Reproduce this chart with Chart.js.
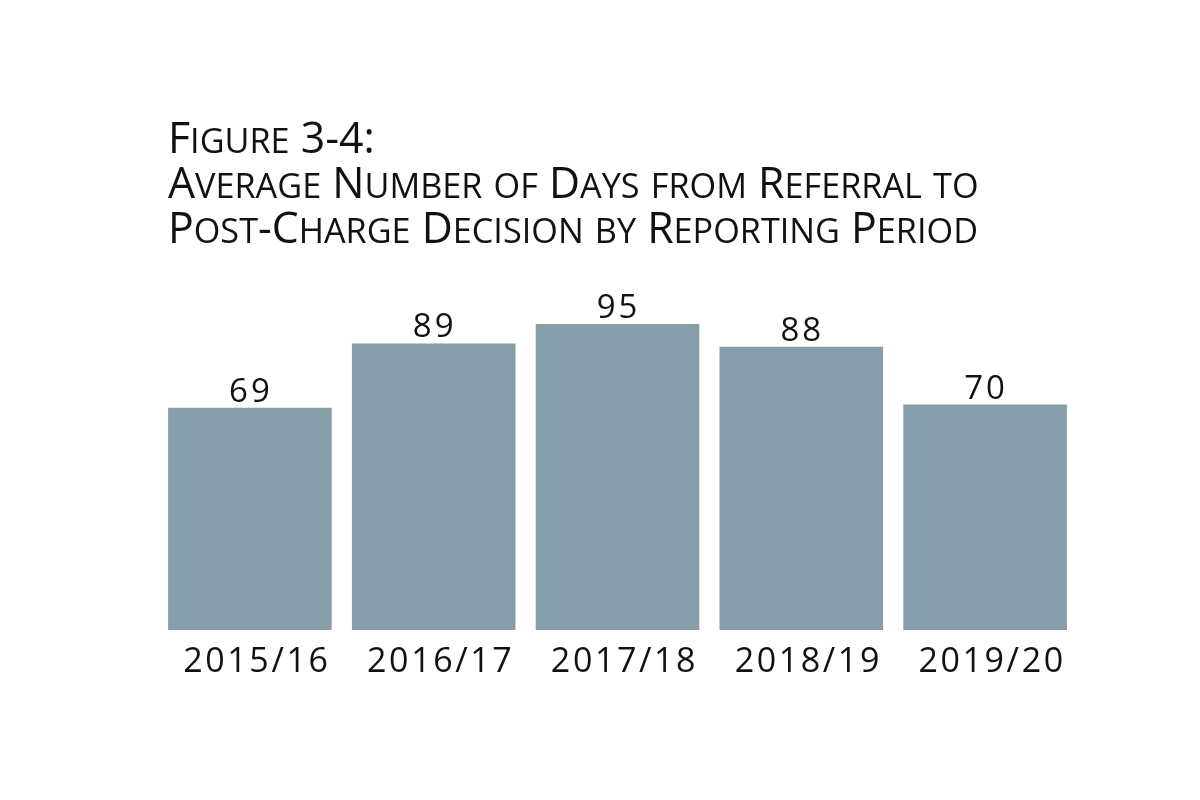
<!DOCTYPE html>
<html>
<head>
<meta charset="utf-8">
<script src="https://cdn.jsdelivr.net/npm/chart.js@4"></script>
<style>
html,body{margin:0;padding:0;background:#fff;}
#wrap{width:1200px;height:800px;position:relative;}
</style>
</head>
<body>
<div id="wrap"><canvas id="c" width="1200" height="800"></canvas></div>
<script>
const categories = ['2015/16', '2016/17', '2017/18', '2018/19', '2019/20'];
const values = [69, 89, 95, 88, 70];
const titleLines = [
  'Figure 3-4:',
  'Average Number of Days from Referral to',
  'Post-Charge Decision by Reporting Period'
];
const yTicks = [0, 100];

const FONT = '"Open Sans", "Noto Sans", sans-serif';
const BAR_COLOR = '#869daa';
const TEXT_COLOR = '#111111';

function smallCapsRuns(text) {
  const runs = [];
  for (const ch of text) {
    const lower = ch !== ch.toUpperCase();
    const last = runs[runs.length - 1];
    if (last && last.lower === lower) last.t += ch; else runs.push({t: ch, lower});
  }
  return runs;
}
function measureSC(ctx, text, size) {
  let w = 0;
  for (const r of smallCapsRuns(text)) {
    ctx.font = (r.lower ? size * 0.8 : size) + 'px ' + FONT;
    w += ctx.measureText(r.t.toUpperCase()).width;
  }
  return w;
}
function drawSC(ctx, text, x, y, size) {
  let cx = x;
  for (const r of smallCapsRuns(text)) {
    ctx.font = (r.lower ? size * 0.8 : size) + 'px ' + FONT;
    ctx.fillText(r.t.toUpperCase(), cx, y);
    cx += ctx.measureText(r.t.toUpperCase()).width;
  }
}

const spacingPlugin = {
  id: 'tickSpacing',
  beforeDraw(chart) {
    chart.ctx.letterSpacing = '2.6px';
  },
  afterDraw(chart) {
    chart.ctx.letterSpacing = '0px';
  }
};

const titlePlugin = {
  id: 'scTitle',
  afterDraw(chart) {
    const ctx = chart.ctx;
    ctx.save();
    ctx.letterSpacing = '0px';
    ctx.fillStyle = TEXT_COLOR;
    ctx.textBaseline = 'alphabetic';
    ctx.textAlign = 'left';
    const size = 43;
    const w = measureSC(ctx, titleLines[2], size);
    const sx = 810 / w;
    const baselines = [153, 198, 243];
    titleLines.forEach((line, i) => {
      ctx.save();
      ctx.translate(168, baselines[i]);
      ctx.scale(sx, 1);
      drawSC(ctx, line, 0, 0, size);
      ctx.restore();
    });
    ctx.restore();
  }
};

const valuePlugin = {
  id: 'valueLabels',
  afterDatasetsDraw(chart) {
    const ctx = chart.ctx;
    const meta = chart.getDatasetMeta(0);
    ctx.save();
    ctx.letterSpacing = '3px';
    ctx.fillStyle = TEXT_COLOR;
    ctx.textAlign = 'center';
    ctx.textBaseline = 'alphabetic';
    ctx.font = '33px ' + FONT;
    meta.data.forEach((bar, i) => {
      ctx.fillText(String(values[i]), bar.x + 1, bar.y - 6);
    });
    ctx.restore();
  }
};

new Chart(document.getElementById('c'), {
  type: 'bar',
  data: {
    labels: categories,
    datasets: [{
      data: values,
      backgroundColor: BAR_COLOR,
      borderWidth: 0,
      barPercentage: 0.89,
      categoryPercentage: 1.0
    }]
  },
  options: {
    responsive: false,
    animation: false,
    devicePixelRatio: 1,
    layout: {padding: {left: 158, right: 123, top: 308, bottom: 120}},
    plugins: {legend: {display: false}, tooltip: {enabled: false}, title: {display: false}},
    scales: {
      x: {
        grid: {display: false, drawTicks: false},
        border: {display: false},
        ticks: {color: TEXT_COLOR, font: {family: FONT, size: 34}, padding: 12, labelOffset: 7},
        afterFit(scale) { scale.height = 50; }
      },
      y: {
        display: false,
        min: yTicks[0],
        max: yTicks[1]
      }
    }
  },
  plugins: [spacingPlugin, titlePlugin, valuePlugin]
});
</script>
</body>
</html>
